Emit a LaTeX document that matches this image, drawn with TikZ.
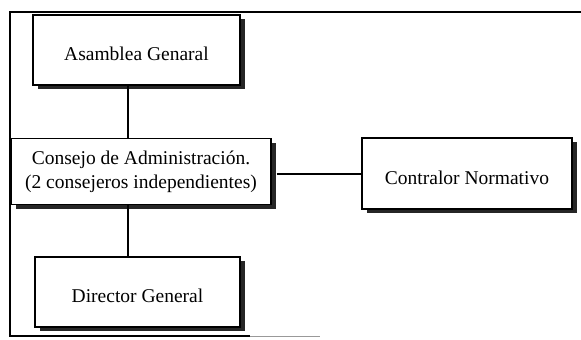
\documentclass[tikz,border=0pt]{standalone}
\usepackage{fontspec}
\setmainfont{Liberation Serif}
\usetikzlibrary{shadows,calc}

\tikzset{
  orgbox/.style={
    draw=black, line width=1.4bp, fill=white, inner sep=0pt,
    font=\fontsize{19.5bp}{24bp}\selectfont,
    drop shadow={shadow xshift=5bp, shadow yshift=-4bp, fill=black!85, opacity=1}
  },
  lowtext/.style={text height=23bp, text depth=2bp},
  link/.style={draw=black, line width=1.1bp},
  frame/.style={draw=black, line width=1.4bp}
}

\begin{document}
\begin{tikzpicture}[x=1bp, y=-1bp]
  \useasboundingbox (0,0) rectangle (581,339);

  % outer frame lines
  \coordinate (ftl) at (10,12);
  \coordinate (ftr) at (581,12);
  \coordinate (fbl) at (10,336);
  \coordinate (fbm) at (250,336);
  \coordinate (fbr) at (320,336);
  \draw[frame] (ftr) -- (ftl) -- (fbl) -- (fbm);
  \draw[line width=1bp, black!40] (fbm) -- (fbr);

  % boxes
  \node[orgbox, lowtext, minimum width=207bp, minimum height=70bp] (asamblea)
    at (136.5,50) {Asamblea Genaral};
  \node[orgbox, align=center, minimum width=260bp, minimum height=66bp] (consejo)
    at (141,171.5) {Consejo de Administración.\\(2 consejeros independientes)};
  \node[orgbox, lowtext, minimum width=210bp, minimum height=71bp] (contralor)
    at (467,173.5) {Contralor Normativo};
  \node[orgbox, lowtext, minimum width=205bp, minimum height=70bp] (director)
    at (137.5,292) {Director General};

  % connectors
  \draw[link] ([xshift=-8.5bp]asamblea.south) -- ([xshift=-8.5bp]asamblea.south |- consejo.north);
  \draw[link] ([xshift=-13bp]consejo.south) -- ([xshift=-13bp]consejo.south |- director.north);
  \draw[link] ([xshift=5bp]consejo.east |- 0,174) -- (contralor.west |- 0,174);
\end{tikzpicture}
\end{document}
